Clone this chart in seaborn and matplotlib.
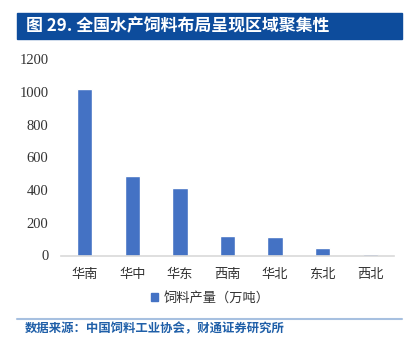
import matplotlib
matplotlib.use("Agg")
import matplotlib.pyplot as plt
import seaborn as sns
import pandas as pd
from matplotlib.patches import Rectangle
from matplotlib.lines import Line2D

# Data
regions = ["华南", "华中", "华东", "西南", "华北", "东北", "西北"]
output = [1018, 488, 415, 119, 111, 44, 7]
y_ticks = [0, 200, 400, 600, 800, 1000, 1200]
series_name = "饲料产量（万吨）"
title = "图 29. 全国水产饲料布局呈现区域聚集性"
source = "数据来源：中国饲料工业协会，财通证券研究所"

df = pd.DataFrame({"region": regions, "output": output})

sns.set_theme(style="white")
plt.rcParams['font.family'] = ['Noto Sans CJK SC', 'DejaVu Sans']
plt.rcParams['font.serif'] = ['Liberation Serif', 'DejaVu Serif']

fig = plt.figure(figsize=(4.12, 3.53), dpi=100)
ax = fig.add_axes([61 / 412, 1 - 255.5 / 353, 333 / 412, 196 / 353])

sns.barplot(data=df, x="region", y="output", color="#4472C4", width=0.32,
            saturation=1, ax=ax)

ax.set_xlim(-0.5, len(regions) - 0.5)
ax.set_ylim(0, 1200)
ax.set_xlabel("")
ax.set_ylabel("")

for s in ["top", "right", "left"]:
    ax.spines[s].set_visible(False)
ax.spines["bottom"].set_color("#D9D9D9")
ax.spines["bottom"].set_linewidth(1.2)
ax.tick_params(axis="both", length=0)
ax.tick_params(axis="x", pad=9, labelsize=9.5, labelcolor="#333333")
ax.set_yticks(y_ticks, [str(t) for t in y_ticks])
ax.tick_params(axis="y", pad=9)
for lbl in ax.yaxis.get_majorticklabels():
    lbl.set_family("serif")
    lbl.set_size(10.5)
    lbl.set_color("#333333")

# Legend below the axes
handle = Rectangle((0, 0), 1, 1, color="#4472C4")
fig.legend([handle], [series_name], loc="center", bbox_to_anchor=(0.51, 1 - 298 / 353),
           frameon=False, fontsize=9.5, handlelength=0.6, handleheight=0.6,
           handletextpad=0.4, labelcolor="#333333")

# Title bar
fig.patches.append(Rectangle((17 / 412, 1 - 39 / 353), 385 / 412, 26 / 353,
                             transform=fig.transFigure, color="#0D4C9C", zorder=0))
fig.text(26 / 412, 1 - 26 / 353, title, color="white", fontsize=12.2,
         fontweight="bold", va="center", ha="left")

# Source footer
fig.lines.append(Line2D([17 / 412, 402 / 412], [1 - 319 / 353, 1 - 319 / 353],
                        transform=fig.transFigure, color="#A7C0E0", linewidth=1.5))
fig.text(25 / 412, 1 - 328.5 / 353, source, color="#1F5FA8", fontsize=8.9,
         fontweight="bold", va="center", ha="left")

fig.savefig("out.png", dpi=100)
